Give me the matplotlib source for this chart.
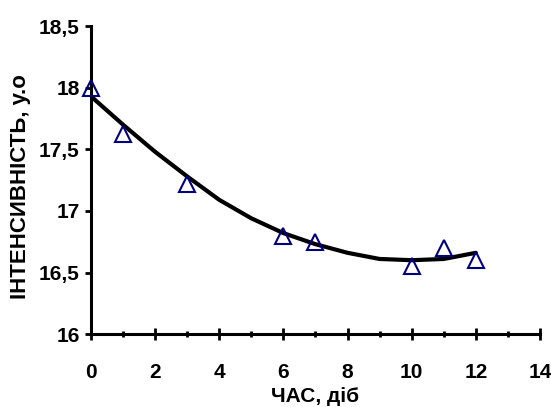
import matplotlib.pyplot as plt
from matplotlib.ticker import FixedLocator, FuncFormatter

# measured points
days = [0, 1, 3, 6, 7, 10, 11, 12]
intensity = [18.0, 17.62, 17.22, 16.8, 16.75, 16.55, 16.7, 16.6]

# trend curve
curve_x = [0, 1, 2, 3, 4, 5, 6, 7, 8, 9, 10, 11, 12]
curve_y = [17.93, 17.70, 17.48, 17.28, 17.09, 16.94, 16.82, 16.73, 16.66, 16.61, 16.60, 16.61, 16.66]

xticks = [0, 2, 4, 6, 8, 10, 12, 14]
yticks = [16, 16.5, 17, 17.5, 18, 18.5]

plt.rcParams['font.family'] = ['Liberation Sans', 'DejaVu Sans']
plt.rcParams['font.weight'] = 'bold'

fig = plt.figure(figsize=(5.51, 4.07), dpi=100)
ax = fig.add_axes([0.165, 0.179, 0.815, 0.757])

ax.plot(curve_x, curve_y, color='black', lw=3, solid_capstyle='round', zorder=3)
ax.plot(days, intensity, ls='none', marker='^', ms=11, mfc='none', mec='#000080', mew=1.5, zorder=4,
        clip_on=False)

ax.set_xlim(0, 14)
ax.set_ylim(16, 18.5)
ax.set_xticks(xticks)
ax.xaxis.set_minor_locator(FixedLocator([1, 3, 5, 7, 9, 11, 13]))
ax.set_yticks(yticks)
ax.yaxis.set_major_formatter(FuncFormatter(lambda v, p: ('%g' % v).replace('.', ',')))

for s in ['top', 'right']:
    ax.spines[s].set_visible(False)
for s in ['left', 'bottom']:
    ax.spines[s].set_linewidth(2.2)

ax.tick_params(axis='x', which='major', direction='inout', length=9, width=2, pad=16, labelsize=15)
ax.tick_params(axis='x', which='minor', direction='inout', length=5, width=2)
ax.tick_params(axis='y', which='major', direction='out', length=4, width=2, pad=4, labelsize=15)

ax.set_xlabel('ЧАС, діб', fontsize=15, fontweight='bold')
ax.set_ylabel('ІНТЕНСИВНІСТЬ, у.о', fontsize=16, fontweight='bold')
ax.xaxis.set_label_coords(0.5, -0.172)
ax.yaxis.set_label_coords(-0.134, 0.48)

plt.savefig('out.png', dpi=100)
